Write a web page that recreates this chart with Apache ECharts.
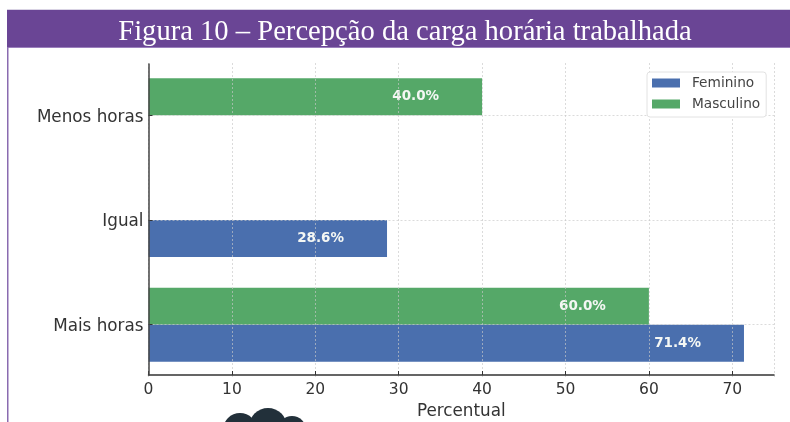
<!DOCTYPE html>
<html><head><meta charset="utf-8">
<style>html,body{margin:0;padding:0;background:#fff}#c{width:790px;height:422px;filter:blur(0.45px)}</style>
<script src="https://cdn.jsdelivr.net/npm/echarts@6/dist/echarts.min.js"></script>
</head><body><div id="c"></div>
<script>
const titleText = 'Figura 10 – Percepção da carga horária trabalhada';
const categories = ['Mais horas', 'Igual', 'Menos horas'];
const feminino = [71.4, 28.6, null];
const masculino = [60.0, null, 40.0];
const xTicks = { min: 0, max: 75, interval: 10 };
const seriesNames = ['Feminino', 'Masculino'];
const colors = ['#4a6fae', '#55a868'];
const ink = '#333333';
const font = '"DejaVu Sans", sans-serif';
const grid = '#c8c8c8';

const chart = echarts.init(document.getElementById('c'), null, { renderer: 'canvas' });
const barLabel = {
  show: true, position: 'insideRight', distance: 43, color: '#f4f7f4',
  fontFamily: font, fontWeight: 'bold', fontSize: 13.5,
  formatter: p => p.value.toFixed(1) + '%'
};
const mkSeries = (name, data, color) => ({
  name, type: 'bar', data, barWidth: 37, barGap: 0,
  itemStyle: { color }, label: barLabel, z: 2, silent: true
});
chart.setOption({
  animation: false,
  backgroundColor: '#fff',
  graphic: [
    { type: 'rect', z: 0, shape: { x: 7, y: 9, width: 783, height: 1 }, style: { fill: '#d9d3e4' } },
    { type: 'rect', z: 0, shape: { x: 7, y: 10, width: 783, height: 37 }, style: { fill: '#6a4595' } },
    { type: 'rect', z: 0, shape: { x: 7, y: 47, width: 783, height: 1 }, style: { fill: '#9b7fbd' } },
    { type: 'rect', z: 0, shape: { x: 7, y: 47, width: 1.5, height: 375 }, style: { fill: '#8a6bb0' } },
    { type: 'group', z: 0, children: [
      { type: 'circle', shape: { cx: 240, cy: 430, r: 17 }, style: { fill: '#22303a' } },
      { type: 'circle', shape: { cx: 268, cy: 427, r: 19 }, style: { fill: '#22303a' } },
      { type: 'circle', shape: { cx: 292, cy: 430, r: 14 }, style: { fill: '#22303a' } }
    ]}
  ],
  title: {
    text: titleText, left: 400, top: 13, textAlign: 'center',
    textStyle: { color: '#fff', fontFamily: '"Liberation Serif", serif', fontWeight: 'normal', fontSize: 28.6 }
  },
  legend: {
    data: seriesNames, left: 647, top: 72, orient: 'vertical', selectedMode: false,
    icon: 'rect', itemWidth: 28, itemHeight: 9, itemGap: 5, padding: [3, 6, 5, 5],
    backgroundColor: '#fff', borderColor: '#e2e2e2', borderWidth: 1, borderRadius: 3,
    textStyle: { color: '#444', fontFamily: font, fontSize: 13.7, padding: [0, 0, 0, 7], height: 16, lineHeight: 16 }, z: 6
  },
  grid: [
    { left: 148.5, right: 16, top: 63, height: 314, outerBoundsMode: 'none' },
    { left: 148.5, right: 16, top: 64, height: 311, outerBoundsMode: 'none' }
  ],
  xAxis: [{
    gridIndex: 0, type: 'value', min: xTicks.min, max: xTicks.max, interval: xTicks.interval, z: 3,
    offset: -2,
    axisLine: { show: true, lineStyle: { color: ink, width: 1.5 } },
    axisTick: { show: true, inside: true, length: 4, lineStyle: { color: ink, width: 1 } },
    axisLabel: { color: ink, fontFamily: font, fontSize: 15.5, margin: 7, showMaxLabel: false },
    splitLine: { show: true, lineStyle: { color: grid, type: [2, 2], width: 1, opacity: 0.65 } },
    name: 'Percentual', nameLocation: 'middle', nameGap: 28,
    nameTextStyle: { color: ink, fontFamily: font, fontSize: 16.8 }
  }, {
    gridIndex: 1, type: 'value', min: xTicks.min, max: xTicks.max, show: false
  }],
  yAxis: [{
    gridIndex: 0, type: 'category', data: categories, z: 3,
    axisLine: { show: false },
    axisTick: { show: true, inside: true, alignWithLabel: true, length: 4, lineStyle: { color: ink, width: 1 } },
    axisLabel: { color: ink, fontFamily: font, fontSize: 16.8, margin: 5, verticalAlign: 'top', lineHeight: 4 },
    splitLine: { show: true, alignWithLabel: true, lineStyle: { color: grid, type: [2, 2], width: 1, opacity: 0.65 } }
  }, {
    gridIndex: 1, type: 'category', data: categories, z: 4,
    axisLine: { show: true, lineStyle: { color: '#444', width: 1.5 } },
    axisTick: { show: false }, axisLabel: { show: false }, splitLine: { show: false }
  }],
  series: [
    mkSeries(seriesNames[1], masculino, colors[1]),
    mkSeries(seriesNames[0], feminino, colors[0])
  ]
});
</script></body></html>
